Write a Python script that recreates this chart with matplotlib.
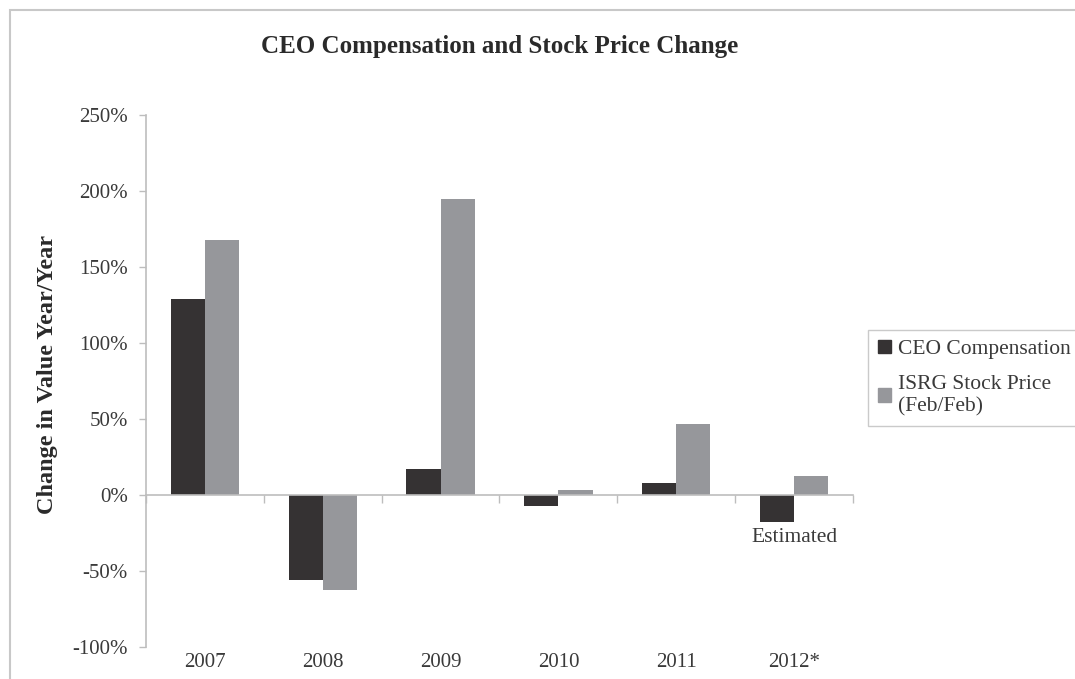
import matplotlib
matplotlib.use("Agg")
from matplotlib import pyplot as plt
from matplotlib.patches import Rectangle, Patch
import matplotlib.transforms as mtransforms
import numpy as np

plt.rcParams['font.family'] = ['Liberation Serif', 'DejaVu Serif']

# data (percent change year over year)
years = ['2007', '2008', '2009', '2010', '2011', '2012*']
ceo_comp = [129, -56, 17, -7, 8, -18]
isrg_price = [168, -62.5, 195, 3, 47, 12.5]

ceo_color = '#353233'
isrg_color = '#96979b'
grey = '#bdbdbd'
text_color = '#3a3a3a'

fig = plt.figure(figsize=(10.75, 6.79), dpi=100)
ax = fig.add_axes([0.1358, 0.0471, 0.6577, 0.7835])

x = np.arange(len(years))
w = 0.29
ax.bar(x - w / 2, ceo_comp, w, color=ceo_color, label='CEO Compensation')
ax.bar(x + w / 2, isrg_price, w, color=isrg_color, label='ISRG Stock Price\n(Feb/Feb)')

ax.set_xlim(-0.5, len(years) - 0.5)
ax.set_ylim(-100, 250)
ax.set_yticks(np.arange(-100, 251, 50))
ax.set_yticklabels([f'{v}%' for v in range(-100, 251, 50)], fontsize=15, color=text_color)

# x axis sits at zero with ticks at category boundaries
ax.spines['bottom'].set_position(('data', 0))
ax.set_xticks(np.arange(-0.5, len(years), 1.0))
ax.set_xticklabels([])
ax.tick_params(axis='x', direction='out', length=6, color=grey, width=1)
ax.tick_params(axis='y', direction='out', length=5, color=grey, width=1, pad=8)
for s in ['top', 'right']:
    ax.spines[s].set_visible(False)
for s in ['left', 'bottom']:
    ax.spines[s].set_color(grey)
    ax.spines[s].set_linewidth(1.2)

# year labels under the plot area
trans = mtransforms.blended_transform_factory(ax.transData, ax.transAxes)
for i, yr in enumerate(years):
    ax.text(i, -0.03, yr, transform=trans, ha='center', va='center',
            fontsize=15, color=text_color)

ax.text(5, -22, 'Estimated', ha='center', va='top', fontsize=15.5, color=text_color)

fig.text(0.465, 0.932, 'CEO Compensation and Stock Price Change',
         ha='center', va='center', fontsize=18, fontweight='bold', color='#2a2a2a')
fig.text(0.044, 0.449, 'Change in Value Year/Year', rotation=90,
         ha='center', va='center', fontsize=17.5, fontweight='bold', color='#2a2a2a')

handles = [Patch(color=ceo_color), Patch(color=isrg_color)]
leg = fig.legend(handles, ['CEO Compensation', 'ISRG Stock Price\n(Feb/Feb)'],
                 loc='upper left', bbox_to_anchor=(868 / 1075, 1 - 330 / 679),
                 fontsize=15.5, frameon=True, fancybox=False,
                 handlelength=0.6, handleheight=0.6, handletextpad=0.35,
                 borderpad=0.45, labelspacing=0.75, borderaxespad=0)
leg.get_frame().set_edgecolor(grey)
leg.get_frame().set_linewidth(1)
for t in leg.get_texts():
    t.set_color(text_color)

# outer frame around the whole chart
fig.patches.append(Rectangle((10 / 1075, -0.1), 1.2, 1 - 10 / 679 + 0.1,
                             transform=fig.transFigure, fill=False,
                             edgecolor='#c8c8c8', linewidth=1.5))

fig.savefig('out.png', dpi=100)
